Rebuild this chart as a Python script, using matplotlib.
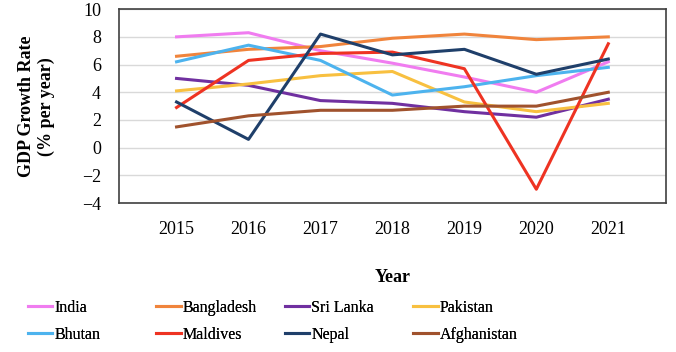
import matplotlib.pyplot as plt

years = [2015, 2016, 2017, 2018, 2019, 2020, 2021]
countries = ['India', 'Bangladesh', 'Sri Lanka', 'Pakistan',
             'Bhutan', 'Maldives', 'Nepal', 'Afghanistan']
india = [8.0, 8.3, 7.0, 6.1, 5.1, 4.0, 6.2]
bangladesh = [6.6, 7.1, 7.3, 7.9, 8.2, 7.8, 8.0]
sri_lanka = [5.0, 4.5, 3.4, 3.2, 2.6, 2.2, 3.5]
pakistan = [4.1, 4.6, 5.2, 5.5, 3.3, 2.6, 3.2]
bhutan = [6.2, 7.4, 6.3, 3.8, 4.4, 5.2, 5.8]
maldives = [2.9, 6.3, 6.8, 6.9, 5.7, -3.0, 7.5]
nepal = [3.3, 0.6, 8.2, 6.7, 7.1, 5.3, 6.4]
afghanistan = [1.5, 2.3, 2.7, 2.7, 3.0, 3.0, 4.0]
series = [india, bangladesh, sri_lanka, pakistan, bhutan, maldives, nepal, afghanistan]
colors = ['#F07CF0', '#F0843C', '#7030A0', '#F8C040',
          '#4DB3EE', '#EE3322', '#1F3F6A', '#A0522D']

plt.rcParams['font.family'] = ['Liberation Serif', 'DejaVu Serif']

fig = plt.figure(figsize=(6.76, 3.52), dpi=100)
ax = fig.add_axes([0.176, 0.423, 0.809, 0.551])

lines = []
for name, vals, c in zip(countries, series, colors):
    ln, = ax.plot(years, vals, color=c, lw=2.2, label=name)
    lines.append(ln)

ax.set_ylim(-4, 10)
ax.set_yticks(range(-4, 11, 2))
ax.set_xlim(2014.2, 2021.8)
ax.set_xticks(years)
ax.grid(axis='y', color='#d9d9d9', lw=1)
ax.set_axisbelow(True)
ax.tick_params(length=0, labelsize=13)
ax.tick_params(axis='x', pad=13)
ax.tick_params(axis='y', pad=13)
for s in ax.spines.values():
    s.set_color('#404040')
    s.set_linewidth(1.2)

ax.set_ylabel('GDP Growth Rate\n(% per year)', fontsize=13, fontweight='bold')
ax.yaxis.set_label_coords(-0.117, 0.5)
ax.set_xlabel('Year', fontsize=13, fontweight='bold', labelpad=22)

# four single-column legends so the columns are evenly spaced like the original
col_x = [0.041, 0.231, 0.421, 0.611]
for k, x0 in enumerate(col_x):
    idx = [k, k + 4]
    leg = fig.legend([lines[i] for i in idx], [countries[i] for i in idx],
                     loc='upper left', bbox_to_anchor=(x0, 0.148), ncol=1,
                     frameon=False, fontsize=11.5, handlelength=1.55,
                     handletextpad=0.12, labelspacing=0.7, borderaxespad=0,
                     borderpad=0)
    fig.add_artist(leg)

fig.savefig('out.png', dpi=100)
